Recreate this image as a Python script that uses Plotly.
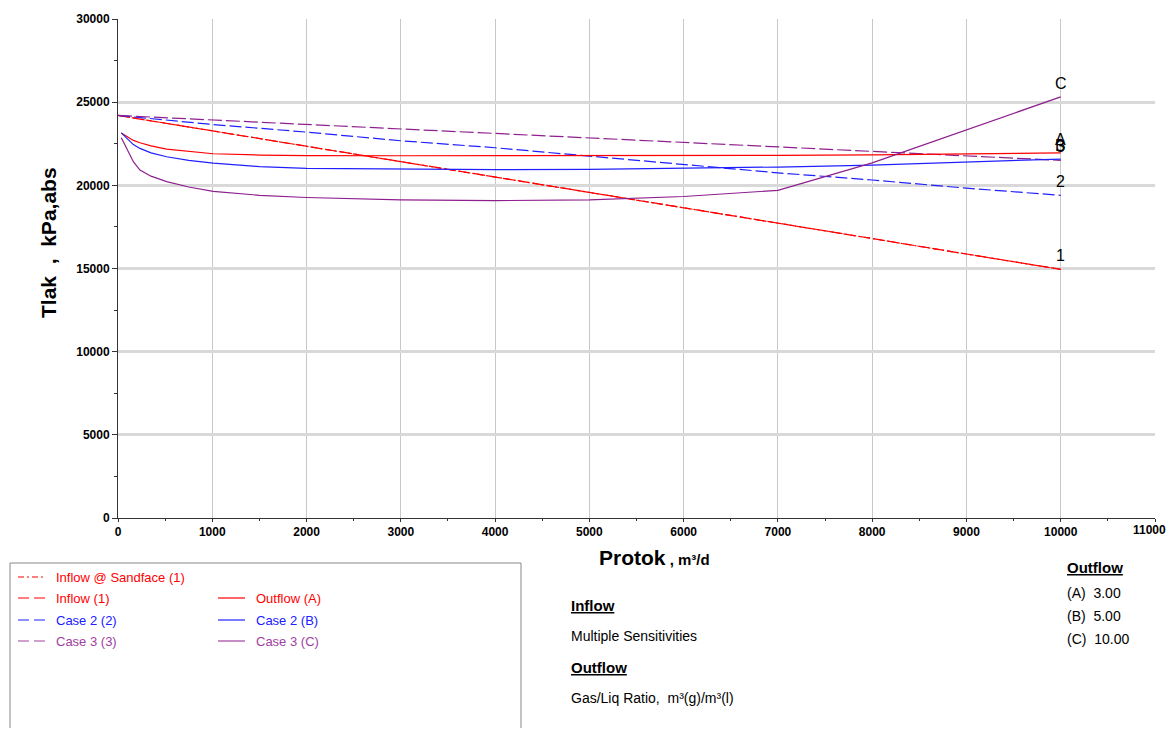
import plotly.graph_objects as go

# ---------------- data ----------------
inflow_x = [0, 1000, 2000, 3000, 4000, 5000, 6000, 7000, 8000, 9000, 10000]
inflow_sandface_1 = [24200, 23280, 22360, 21430, 20510, 19590, 18660, 17730, 16800, 15870, 14950]
inflow_1 = [24200, 23280, 22360, 21430, 20510, 19590, 18660, 17730, 16800, 15870, 14950]
inflow_case2 = [24200, 23660, 23200, 22680, 22260, 21760, 21230, 20750, 20320, 19830, 19400]
inflow_case3 = [24200, 23930, 23650, 23380, 23100, 22850, 22580, 22300, 22020, 21760, 21500]

outflow_x = [35, 100, 163, 233, 350, 516, 750, 1010, 1500, 2000, 3000, 4000, 5000, 6000, 7000, 8000, 9000, 10000]
outflow_A = [23150, 22900, 22700, 22560, 22370, 22180, 22030, 21900, 21820, 21790, 21780, 21780, 21780, 21790, 21800, 21830, 21880, 21950]
outflow_B = [23150, 22780, 22450, 22220, 21950, 21720, 21500, 21330, 21130, 21020, 20960, 20940, 20960, 21030, 21100, 21220, 21390, 21580]
outflow_C = [22860, 22100, 21420, 20920, 20550, 20220, 19900, 19640, 19400, 19270, 19130, 19080, 19130, 19330, 19700, 21350, 23350, 25320]

x_ticks = [0, 1000, 2000, 3000, 4000, 5000, 6000, 7000, 8000, 9000, 10000, 11000]
x_tick_labels = ["0", "1000", "2000", "3000", "4000", "5000", "6000", "7000", "8000", "9000", "10000", "11000"]
y_ticks = [0, 5000, 10000, 15000, 20000, 25000, 30000]

outflow_values = [("(A)", "3.00"), ("(B)", "5.00"), ("(C)", "10.00")]

RED = "#ff0000"
BLUE = "#2020ff"
PURPLE = "#8e1f8e"
PURPLE_TXT = "#a040a0"
FONT = "Liberation Sans, Arial, sans-serif"

# page body has an 8px margin: figure is placed at (8, 8) in the window
OFF = 8
W, H = 1160, 720
ML, MR, MT, MB = 110, 13, 11, 210
PW, PH = W - ML - MR, H - MT - MB
PLOT_LEFT = OFF + ML          # window px
PLOT_BOTTOM = OFF + H - MB    # window px


def px(x):
    return (x - PLOT_LEFT) / PW


def py(y):
    return (PLOT_BOTTOM - y) / PH


fig = go.Figure()

series = [
    (inflow_x, inflow_sandface_1, RED, "6px,3px,2px,3px", "Inflow @ Sandface (1)", None),
    (inflow_x, inflow_1, RED, "12px,3px", "Inflow (1)", "1"),
    (inflow_x, inflow_case2, BLUE, "12px,4px", "Case 2 (2)", "2"),
    (inflow_x, inflow_case3, PURPLE, "14px,4px", "Case 3 (3)", "3"),
    (outflow_x, outflow_A, RED, "solid", "Outflow (A)", "A"),
    (outflow_x, outflow_B, BLUE, "solid", "Case 2 (B)", "B"),
    (outflow_x, outflow_C, PURPLE, "solid", "Case 3 (C)", "C"),
]

for xs, ys, col, dash, name, lab in series:
    fig.add_trace(go.Scatter(x=xs, y=ys, mode="lines", name=name,
                             line=dict(color=col, width=1.2, dash=dash),
                             showlegend=False, hoverinfo="skip"))
    if lab:
        fig.add_annotation(x=xs[-1], y=ys[-1], text=lab, showarrow=False,
                           xanchor="center", yanchor="bottom", yshift=3,
                           font=dict(family=FONT, size=16, color="black"))

# last x tick label drawn as annotation so it is not dropped at the figure edge
tick_text_shown = x_tick_labels[:-1] + [""]

fig.update_layout(
    width=W, height=H,
    margin=dict(l=ML, r=MR, t=MT, b=MB, autoexpand=False),
    paper_bgcolor="white", plot_bgcolor="white",
    font=dict(family=FONT, color="black"),
    xaxis=dict(range=[0, 11000], tickvals=x_ticks, ticktext=tick_text_shown, showgrid=True, gridcolor="#c8c8c8",
               gridwidth=1, zeroline=False, showline=True, linecolor="#333333", linewidth=1,
               ticks="outside", ticklen=3, tickcolor="#333333", automargin=False,
               tickfont=dict(family=FONT, size=12, color="black", weight="bold"),
               minor=dict(dtick=500, ticks="outside", ticklen=2, tickcolor="#333333", showgrid=False)),
    yaxis=dict(range=[0, 30000], tickvals=y_ticks, tickformat="d", showgrid=True, gridcolor="#d9d9d9",
               gridwidth=3, zeroline=False, showline=True, linecolor="#333333", linewidth=1,
               ticks="outside", ticklen=5, tickcolor="#333333", automargin=False,
               tickfont=dict(family=FONT, size=12, color="black", weight="bold"),
               minor=dict(dtick=2500, ticks="outside", ticklen=3, tickcolor="#333333", showgrid=False)),
)

fig.add_annotation(x=x_ticks[-1], y=0, yref="y", xref="x", text=f"<b>{x_tick_labels[-1]}</b>",
                   showarrow=False, xanchor="right", yanchor="top", xshift=13, yshift=-3,
                   font=dict(family=FONT, size=12, color="black"))

# axis titles
fig.add_annotation(xref="paper", yref="paper", x=px(597), y=py(557), xanchor="left", yanchor="middle",
                   text="<b>Protok</b><b><span style='font-size:15px'> , m³/d</span></b>",
                   showarrow=False, font=dict(family=FONT, size=21, color="black"))
fig.add_annotation(xref="paper", yref="paper", x=px(48), y=py(243), xanchor="center", yanchor="middle",
                   textangle=-90, text="<b>Tlak  ,  kPa,abs</b>",
                   showarrow=False, font=dict(family=FONT, size=21, color="black"))

# legend box
fig.add_shape(type="rect", xref="paper", yref="paper", x0=px(10), x1=px(521), y0=py(760), y1=py(563),
              line=dict(color="#888888", width=1), fillcolor="rgba(0,0,0,0)")

legend_items = [
    (18, 577, "Inflow @ Sandface (1)", RED, "dot"),
    (18, 598, "Inflow (1)", RED, "dash"),
    (18, 620, "Case 2 (2)", BLUE, "dash"),
    (18, 641, "Case 3 (3)", PURPLE_TXT, "dash"),
    (218, 598, "Outflow (A)", RED, "solid"),
    (218, 620, "Case 2 (B)", BLUE, "solid"),
    (218, 641, "Case 3 (C)", PURPLE_TXT, "solid"),
]
for lx, ly, txt, col, dash in legend_items:
    fig.add_shape(type="line", xref="paper", yref="paper", x0=px(lx), x1=px(lx + 27), y0=py(ly), y1=py(ly),
                  line=dict(color=col, width=1.2, dash="6px,3px,2px,3px" if dash == "dot" else ("11px,5px" if dash == "dash" else "solid")))
    fig.add_annotation(xref="paper", yref="paper", x=px(lx + 36), y=py(ly), xanchor="left", yanchor="middle",
                       text=txt, showarrow=False, font=dict(family=FONT, size=13, color=col))

# right-hand text
txt_font = dict(family=FONT, size=14, color="black")
fig.add_annotation(xref="paper", yref="paper", x=px(569), y=py(605), xanchor="left", yanchor="middle",
                   text="<b><u>Inflow</u></b>", showarrow=False, font=dict(family=FONT, size=15, color="black"))
fig.add_annotation(xref="paper", yref="paper", x=px(569), y=py(636), xanchor="left", yanchor="middle",
                   text="Multiple Sensitivities", showarrow=False, font=txt_font)
fig.add_annotation(xref="paper", yref="paper", x=px(569), y=py(667), xanchor="left", yanchor="middle",
                   text="<b><u>Outflow</u></b>", showarrow=False, font=dict(family=FONT, size=15, color="black"))
fig.add_annotation(xref="paper", yref="paper", x=px(569), y=py(698), xanchor="left", yanchor="middle",
                   text="Gas/Liq Ratio,  m³(g)/m³(l)", showarrow=False, font=txt_font)

fig.add_annotation(xref="paper", yref="paper", x=px(1065), y=py(567), xanchor="left", yanchor="middle",
                   text="<b><u>Outflow</u></b>", showarrow=False, font=dict(family=FONT, size=15, color="black"))
for i, (lab, val) in enumerate(outflow_values):
    fig.add_annotation(xref="paper", yref="paper", x=px(1065), y=py(593 + 23 * i), xanchor="left", yanchor="middle",
                       text=f"{lab}  {val}", showarrow=False, font=txt_font)

fig.write_html("out.html")
